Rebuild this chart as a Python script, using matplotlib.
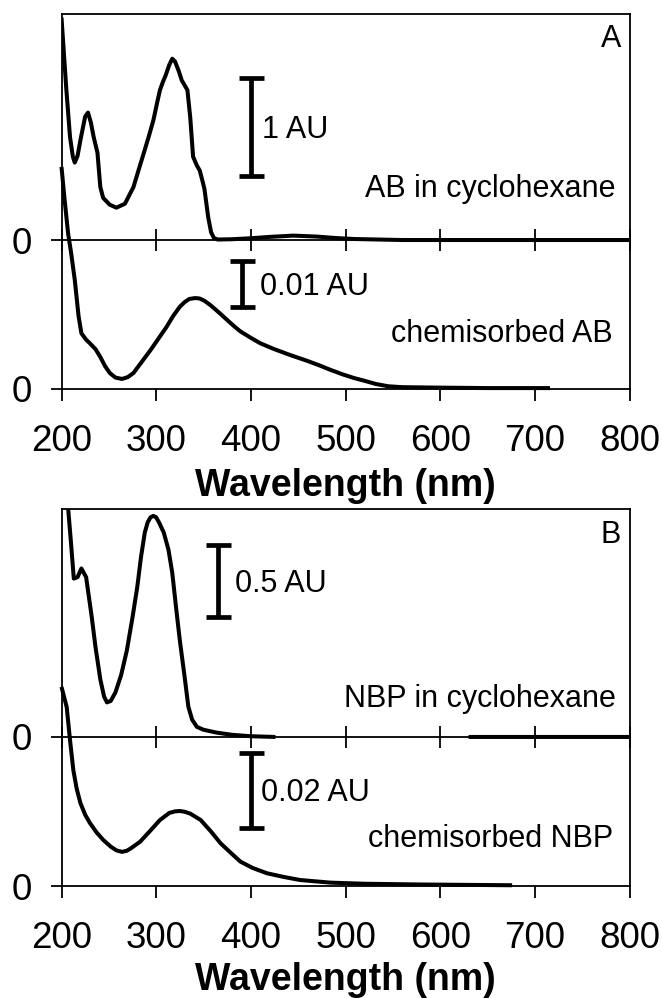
import numpy as np
import matplotlib.pyplot as plt

plt.rcParams['font.family'] = ['Liberation Sans', 'DejaVu Sans']

# A: azobenzene in cyclohexane (AU) and chemisorbed azobenzene (AU)
ab_sol_nm = [200, 205, 209, 212, 214, 217, 220, 225, 228, 231, 234, 238, 241, 244,
             251, 258, 267, 276, 281, 287, 292, 297, 301, 304, 307, 310, 314, 317, 320, 324, 327,
             330, 333, 336, 339, 343, 346, 349, 351, 355, 358, 361, 365, 380, 400, 420,
             445, 470, 490, 510, 540, 560, 600, 700, 800]
ab_sol_au = [2.27, 1.55, 1.05, 0.85, 0.79, 0.86, 1.02, 1.26, 1.30, 1.20, 1.05, 0.89, 0.54, 0.43,
             0.36, 0.33, 0.37, 0.54, 0.70, 0.89, 1.05, 1.22, 1.40, 1.53, 1.61, 1.68, 1.79, 1.85, 1.82, 1.72, 1.63,
             1.58, 1.53, 1.25, 0.85, 0.76, 0.71, 0.60, 0.52, 0.23, 0.08, 0.02, 0.005, 0.008, 0.018, 0.032,
             0.045, 0.035, 0.02, 0.01, 0.004, 0.0, 0.0, 0.0, 0.0]

ab_chem_nm = [200, 203, 207, 210, 214, 218, 221, 226, 230, 236, 241, 246, 251, 257,
              264, 270, 276, 285, 294, 303, 311, 318, 325, 330, 335, 341, 346, 351, 357, 366,
              375, 382, 389, 400, 410, 425, 442, 459, 472, 484, 497, 509, 520, 532,
              545, 560, 600, 650, 716]
ab_chem_au = [0.0486, 0.042, 0.034, 0.030, 0.0239, 0.016, 0.0122, 0.0108, 0.0100, 0.0087, 0.0070, 0.0050, 0.0035, 0.0025,
              0.0022, 0.0026, 0.0035, 0.0060, 0.0085, 0.0112, 0.0136, 0.0160, 0.0180, 0.0190, 0.0197, 0.0199, 0.0198, 0.0193, 0.0184, 0.0168,
              0.0151, 0.0138, 0.0126, 0.0112, 0.0100, 0.0087, 0.0074, 0.0062, 0.0052, 0.0042, 0.0032, 0.0024, 0.0018, 0.0011,
              0.0006, 0.0004, 0.0003, 0.0002, 0.0002]

# B: nitrobiphenyl in cyclohexane (gap in the recorded trace) and chemisorbed
nbp_sol_nm = [205, 207, 210, 213, 217, 221, 226, 232, 236, 241, 245, 248, 252, 257,
              263, 269, 275, 280, 284, 288, 291, 294, 297, 300, 303, 308, 313, 317, 321, 325,
              330, 334, 338, 343, 350, 364, 380, 400, 426, 500, 630, 700, 800]
nbp_sol_au = [1.75, 1.59, 1.35, 1.10, 1.11, 1.17, 1.11, 0.83, 0.62, 0.40, 0.28, 0.24, 0.25, 0.31,
              0.43, 0.60, 0.83, 1.04, 1.25, 1.42, 1.49, 1.525, 1.535, 1.525, 1.49, 1.42, 1.30, 1.14, 0.90, 0.67,
              0.42, 0.21, 0.12, 0.07, 0.05, 0.03, 0.015, 0.005, 0.0, np.nan, 0.0, 0.0, 0.0]

nbp_chem_nm = [200, 205.5, 209, 212.5, 216, 220, 225, 230, 237, 244, 252, 258, 264, 269, 273,
               283, 294, 304, 314, 320, 325, 330, 336, 347, 358, 368, 379, 389, 402, 417, 435,
               452, 484, 520, 580, 676]
nbp_chem_au = [0.0531, 0.0477, 0.0389, 0.0309, 0.0260, 0.0221, 0.0190, 0.0168, 0.0143, 0.0123, 0.0105, 0.0095, 0.0091, 0.0094, 0.0100,
               0.0118, 0.0148, 0.0176, 0.0195, 0.0199, 0.0200, 0.0198, 0.0193, 0.0176, 0.0145, 0.0114, 0.0088, 0.0065, 0.0048, 0.0034, 0.0024,
               0.0016, 0.0009, 0.0006, 0.0004, 0.0002]

x_ticks = [200, 300, 400, 500, 600, 700, 800]
bar_values = {'ab_sol': 1.0, 'ab_chem': 0.01, 'nbp_sol': 0.5, 'nbp_chem': 0.02}

LW = 2.9
SPINE = 1.3
TICK_FS = 26.5
TEXT_FS = 22

fig = plt.figure(figsize=(6.62, 9.98), dpi=100)


def scale_bar(ax, x, y0, length, text, dx):
    ax.errorbar([x], [y0 + length / 2], yerr=[length / 2], fmt='none', ecolor='black',
                elinewidth=3.4, capsize=9, capthick=3.4, clip_on=False)
    ax.annotate(text, xy=(x, y0 + length / 2), xytext=(dx, -8), textcoords='offset points',
                ha='left', va='baseline', fontsize=TEXT_FS)


def panel(rect, letter, sol, chem, sol_lim, chem_lim, bars, labels, letter_y, label_y, xpad):
    # bottom trace owns the frame and the wavelength axis
    ax = fig.add_axes(rect)
    ax.plot(chem[0], chem[1], color='black', lw=LW, clip_on=False, solid_capstyle='butt',
            solid_joinstyle='round')
    ax.set_xlim(200, 800)
    ax.set_ylim(*chem_lim)
    ax.set_xticks(x_ticks)
    ax.set_yticks([0])
    ax.set_yticklabels(['0'])
    for s in ax.spines.values():
        s.set_linewidth(SPINE)
    ax.tick_params(axis='x', direction='out', length=8.5, width=SPINE, labelsize=TICK_FS, pad=17)
    ax.tick_params(axis='y', direction='out', length=8, width=SPINE, labelsize=TICK_FS, pad=13)
    ax.set_xlabel('Wavelength (nm)', fontsize=27, fontweight='bold', labelpad=xpad)

    # solution spectrum on its own scale, zero line in the middle
    ax2 = fig.add_axes(rect, sharex=ax)
    ax2.patch.set_visible(False)
    ax2.plot(sol[0], sol[1], color='black', lw=LW, solid_capstyle='butt', solid_joinstyle='round')
    ax2.set_ylim(*sol_lim)
    for s in ax2.spines.values():
        s.set_visible(False)
    ax2.tick_params(axis='x', bottom=False, labelbottom=False)
    ax2.set_yticks([0])
    ax2.set_yticklabels(['0'])
    ax2.tick_params(axis='y', direction='out', length=8, width=SPINE, labelsize=TICK_FS, pad=13)

    zero = -sol_lim[0] / (sol_lim[1] - sol_lim[0])
    mid = ax2.secondary_xaxis(zero)
    mid.set_xticks(x_ticks)
    mid.tick_params(direction='inout', length=16, width=SPINE, labelbottom=False, labeltop=False)
    for s in mid.spines.values():
        s.set_linewidth(SPINE)

    scale_bar(ax2, *bars[0])
    scale_bar(ax, *bars[1])

    ax.text(0.985, letter_y, letter, transform=ax.transAxes, ha='right', va='baseline', fontsize=TEXT_FS)
    ax.text(0.976, label_y[0], labels[0], transform=ax.transAxes, ha='right', va='baseline', fontsize=TEXT_FS)
    ax.text(0.971, label_y[1], labels[1], transform=ax.transAxes, ha='right', va='baseline', fontsize=TEXT_FS)


W, H = 662, 998
panel([61.5 / W, (H - 389) / H, 568 / W, 375 / H], 'A',
      (ab_sol_nm, ab_sol_au), (ab_chem_nm, ab_chem_au),
      (-1.520, 2.306), (0, 0.08206),
      [(400, 0.65, bar_values['ab_sol'], '1 AU', 8),
       (391, 0.018, bar_values['ab_chem'], '0.01 AU', 13)],
      ('AB in cyclohexane', 'chemisorbed AB'), 0.912, (0.512, 0.125), 6)

panel([61.5 / W, (H - 886) / H, 568 / W, 377 / H], 'B',
      (nbp_sol_nm, nbp_sol_au), (nbp_chem_nm, nbp_chem_au),
      (-1.035, 1.583), (0, 0.10053),
      [(365.6, 0.833, bar_values['nbp_sol'], '0.5 AU', 12),
       (400, 0.0155, bar_values['nbp_chem'], '0.02 AU', 7)],
      ('NBP in cyclohexane', 'chemisorbed NBP'), 0.910, (0.475, 0.103), 4)

fig.savefig('out.png', dpi=100)
